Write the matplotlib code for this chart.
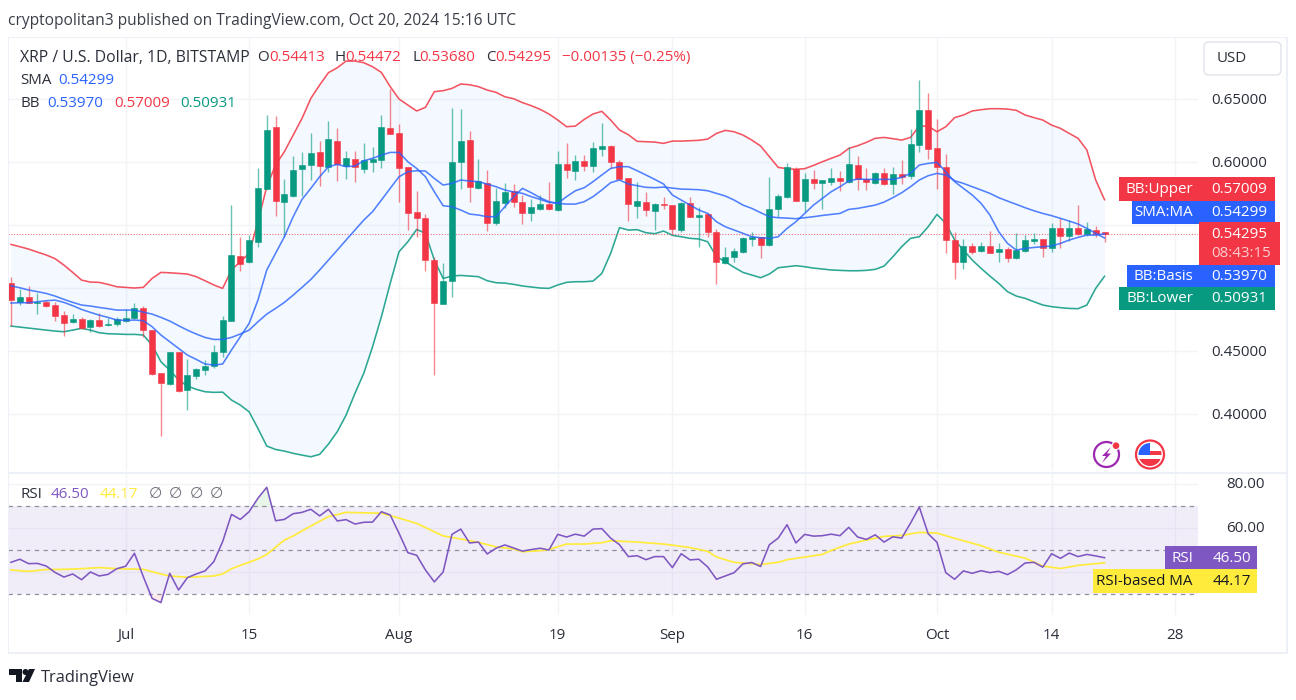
import matplotlib
matplotlib.use("Agg")
import matplotlib.pyplot as plt
from matplotlib.patches import Rectangle, FancyBboxPatch, Circle, Polygon, Arc

plt.rcParams["font.family"] = ["Open Sans", "DejaVu Sans"]

# daily candles, Jun 18 to Oct 20 2024
opens = [.5039, .4891, .4928, .4881, .4889, .4865, .4785, .4732, .4751, .4693, .4743, .4706, .4714, .4741, .4759, .4844, .4666, .4328, .4238, .4489, .4190, .4301, .4349, .4381, .4489,
         .4741, .5254, .5209, .5362, .5785, .6280, .5680, .5730, .5944, .5976, .6082, .5963, .6166, .5968, .6024, .5944, .6000, .6016, .6272, .6230, .5960, .5600, .5553, .5222, .4873,
         .5053, .5997, .6174, .5791, .5836, .5513, .5672, .5770, .5685, .5595, .5629, .5669, .5619, .5984, .5928, .6005, .5971, .6106, .6124, .5997, .5870, .5653, .5685, .5608, .5664,
         .5658, .5460, .5672, .5563, .5584, .5447, .5198, .5243, .5285, .5386, .5402, .5341, .5627, .5722, .5947, .5693, .5862, .5830, .5844, .5870, .5844, .5973, .5867, .5836, .5910,
         .5822, .5902, .5886, .6135, .6415, .6111, .5963, .5381, .5209, .5336, .5293, .5330, .5285, .5309, .5235, .5296, .5375, .5386, .5315, .5479, .5415, .5479, .5431, .5463, .54413]
highs = [.5090, .4989, .5018, .4957, .4904, .4891, .4820, .4793, .4772, .4751, .4799, .4764, .4767, .4830, .4878, .4857, .4666, .4328, .4492, .4489, .4434, .4362, .4428, .4547, .4777,
         .5658, .5402, .5420, .5949, .6373, .6365, .5862, .6047, .6076, .6233, .6169, .6325, .6267, .6090, .6090, .6148, .6116, .6373, .6576, .6301, .5960, .5772, .5587, .5248, .5201,
         .6426, .6420, .6246, .6021, .5936, .5796, .5836, .5825, .5738, .5706, .5738, .5838, .6087, .6148, .6055, .6055, .6161, .6307, .6135, .6016, .5870, .5838, .5762, .5672, .5719,
         .5658, .5680, .5719, .5640, .5592, .5465, .5328, .5315, .5407, .5447, .5407, .5878, .5746, .5989, .5963, .5910, .5936, .5857, .5949, .5931, .6121, .6047, .5949, .5923, .5949,
         .5963, .6016, .6259, .6651, .6545, .6338, .6061, .5447, .5386, .5354, .5367, .5452, .5354, .5328, .5434, .5420, .5434, .5386, .5518, .5553, .5539, .5658, .5521, .5494, .54472]
lows = [.4698, .4865, .4878, .4793, .4846, .4738, .4619, .4725, .4672, .4653, .4688, .4701, .4698, .4732, .4751, .4613, .4309, .3825, .4230, .4177, .4031, .4275, .4309, .4362, .4450,
        .4741, .5137, .5201, .5322, .5785, .5574, .5407, .5719, .5730, .5857, .5809, .5923, .5852, .5865, .5844, .5915, .5920, .5955, .6219, .5680, .5460, .5407, .5137, .4309, .4873,
        .4931, .5785, .5680, .5785, .5455, .5500, .5632, .5645, .5508, .5531, .5619, .5619, .5611, .5875, .5857, .5931, .5923, .6050, .5955, .5865, .5531, .5558, .5574, .5460, .5624,
        .5428, .5447, .5561, .5328, .5402, .5029, .5190, .5206, .5275, .5336, .5235, .5333, .5561, .5711, .5693, .5606, .5785, .5627, .5817, .5772, .5830, .5778, .5778, .5825, .5817,
        .5746, .5825, .5862, .6076, .6024, .5783, .5275, .5074, .5151, .5267, .5283, .5275, .5206, .5209, .5230, .5288, .5349, .5248, .5283, .5320, .5373, .5420, .5415, .5407, .5368]
closes = [.4904, .4928, .4883, .4889, .4859, .4780, .4725, .4751, .4682, .4743, .4698, .4717, .4751, .4764, .4841, .4664, .4315, .4243, .4492, .4185, .4309, .4354, .4383, .4489, .4746,
          .5262, .5190, .5381, .5791, .6254, .5688, .5743, .5934, .5976, .6074, .5971, .6182, .5984, .6031, .5957, .6016, .6021, .6280, .6225, .5949, .5595, .5553, .5222, .4881, .5055,
          .5997, .6166, .5804, .5849, .5518, .5688, .5762, .5680, .5595, .5643, .5666, .5624, .5984, .5936, .6005, .5971, .6108, .6124, .6000, .5865, .5666, .5690, .5616, .5666, .5658,
          .5465, .5677, .5561, .5579, .5442, .5209, .5243, .5291, .5394, .5402, .5344, .5627, .5730, .5960, .5693, .5862, .5836, .5854, .5870, .5846, .5981, .5862, .5844, .5910, .5822,
          .5902, .5883, .6145, .6415, .6106, .5963, .5378, .5209, .5336, .5288, .5330, .5280, .5307, .5235, .5301, .5381, .5386, .5315, .5479, .5412, .5479, .5431, .5465, .5426, .54295]

bb_upper = [.5346, .5328, .5309, .5285, .5262, .5233, .5182, .5124, .5063, .5047, .5045, .5029, .5010, .5005, .5000, .5005, .5076, .5124, .5121, .5116, .5111, .5090, .5058, .5024, .4997,
            .5143, .5209, .5275, .5526, .5804, .5976, .6082, .6214, .6346, .6505, .6611, .6709, .6748, .6801, .6801, .6788, .6756, .6711, .6598, .6500, .6452, .6405, .6434, .6558, .6566,
            .6584, .6619, .6613, .6598, .6571, .6553, .6518, .6502, .6471, .6447, .6418, .6381, .6333, .6280, .6285, .6338, .6381, .6402, .6333, .6254, .6217, .6164, .6161, .6158, .6148,
            .6166, .6166, .6169, .6172, .6182, .6227, .6251, .6240, .6214, .6174, .6127, .6042, .5957, .5947, .5942, .5947, .5973, .6002, .6029, .6055, .6108, .6129, .6156, .6188, .6195,
            .6185, .6174, .6195, .6285, .6285, .6240, .6280, .6352, .6373, .6405, .6415, .6423, .6423, .6420, .6410, .6373, .6352, .6333, .6293, .6267, .6227, .6188, .6095, .5857, .57009]
bb_lower = [.4698, .4690, .4682, .4674, .4666, .4658, .4653, .4666, .4680, .4666, .4645, .4637, .4635, .4632, .4632, .4627, .4547, .4415, .4349, .4270, .4222, .4196, .4177, .4172, .4174,
            .4111, .4071, .4018, .3886, .3746, .3719, .3706, .3688, .3674, .3661, .3680, .3762, .3860, .3992, .4164, .4323, .4534, .4772, .5037, .5288, .5367, .5465, .5434, .5222, .5076,
            .5095, .5100, .5095, .5090, .5058, .5042, .5039, .5029, .5016, .5008, .5000, .4997, .5024, .5045, .5050, .5050, .5055, .5116, .5275, .5479, .5460, .5463, .5439, .5431, .5452,
            .5418, .5407, .5394, .5389, .5367, .5248, .5209, .5164, .5124, .5103, .5082, .5111, .5161, .5169, .5177, .5169, .5158, .5151, .5143, .5140, .5137, .5137, .5140, .5148, .5174,
            .5248, .5328, .5394, .5407, .5486, .5584, .5513, .5381, .5301, .5222, .5156, .5095, .5037, .4971, .4936, .4918, .4891, .4865, .4852, .4844, .4838, .4836, .4865, .4997, .50931]
bb_basis = [.5018, .5002, .4984, .4971, .4957, .4936, .4910, .4886, .4865, .4857, .4846, .4836, .4825, .4825, .4825, .4809, .4793, .4767, .4738, .4701, .4666, .4635, .4608, .4592, .4592,
            .4608, .4635, .4666, .4732, .4793, .4838, .4886, .4944, .5005, .5068, .5143, .5222, .5301, .5381, .5460, .5539, .5606, .5698, .5791, .5883, .5923, .5931, .5928, .5870, .5817,
            .5830, .5857, .5849, .5844, .5825, .5804, .5778, .5762, .5751, .5725, .5703, .5680, .5672, .5666, .5666, .5685, .5725, .5778, .5836, .5857, .5825, .5812, .5799, .5796, .5801,
            .5793, .5785, .5783, .5780, .5772, .5751, .5730, .5698, .5658, .5632, .5598, .5566, .5558, .5555, .5550, .5558, .5566, .5576, .5584, .5592, .5624, .5632, .5645, .5658, .5682,
            .5717, .5756, .5804, .5857, .5891, .5910, .5897, .5852, .5830, .5804, .5778, .5751, .5717, .5690, .5664, .5637, .5613, .5592, .5574, .5553, .5531, .5508, .5473, .5434, .5397]
sma = [.4881, .4883, .4883, .4891, .4899, .4904, .4886, .4860, .4830, .4807, .4785, .4767, .4746, .4743, .4746, .4741, .4693, .4627, .4574, .4521, .4468, .4434, .4397, .4389, .4397,
       .4508, .4613, .4719, .4904, .5143, .5275, .5407, .5566, .5703, .5791, .5883, .5963, .5981, .5963, .5968, .6010, .6029, .6055, .6076, .6076, .6002, .5949, .5883, .5764, .5653,
       .5645, .5619, .5587, .5579, .5566, .5566, .5645, .5725, .5791, .5756, .5717, .5685, .5672, .5725, .5772, .5796, .5844, .5897, .5949, .5963, .5963, .5931, .5897, .5862, .5825,
       .5738, .5698, .5658, .5619, .5592, .5526, .5486, .5460, .5434, .5407, .5399, .5394, .5407, .5473, .5526, .5592, .5658, .5711, .5764, .5804, .5849, .5865, .5862, .5862, .5862,
       .5862, .5878, .5910, .5976, .5989, .5997, .5923, .5844, .5791, .5738, .5672, .5579, .5447, .5354, .5301, .5315, .5322, .5328, .5333, .5354, .5381, .5402, .5420, .5420, .54299]

rsi = [44.4, 45.8, 43.8, 43.9, 42.7, 39.8, 37.7, 39.1, 36.5, 40.0, 38.2, 38.9, 41.5, 42.6, 48.5, 37.9, 28.0, 26.1, 39.4, 31.8, 37.4, 39.1, 40.5, 44.7, 53.8,
       66.2, 63.9, 67.4, 73.5, 78.5, 63.3, 63.9, 66.5, 67.1, 68.5, 65.5, 68.5, 63.2, 63.8, 61.8, 62.6, 62.7, 67.4, 65.9, 57.6, 48.8, 47.6, 40.9, 35.5, 40.0,
       57.1, 59.5, 53.2, 53.6, 48.2, 50.8, 52.3, 50.9, 49.5, 50.2, 50.8, 50.0, 57.1, 55.9, 57.2, 56.3, 59.5, 59.7, 55.4, 52.4, 47.0, 47.4, 45.6, 47.0, 47.0,
       42.0, 48.3, 45.5, 45.8, 42.3, 36.7, 38.2, 39.7, 43.7, 44.3, 42.5, 52.4, 55.4, 61.5, 53.2, 57.1, 56.3, 56.5, 57.2, 56.5, 60.3, 55.9, 54.8, 56.9, 53.6,
       56.0, 55.4, 62.2, 69.5, 57.4, 53.5, 39.7, 36.7, 40.5, 39.4, 40.6, 39.7, 40.3, 38.8, 41.0, 44.1, 44.4, 42.2, 48.3, 46.2, 48.6, 47.0, 48.0, 47.3, 46.50]

rsi_ma_days = [0, 2, 4, 6, 8, 10, 12, 15, 17, 18, 20, 23, 24, 25, 28, 29, 31, 32, 34, 36, 38, 42, 44, 46, 48, 49, 51, 53, 55, 57, 58, 60, 61, 63, 65, 67, 68, 71, 74, 77,
               79, 80, 82, 84, 85, 87, 88, 92, 93, 95, 97, 99, 101, 103, 105, 107, 110, 112, 115, 117, 119, 121, 124]
rsi_ma = [40.9, 40.3, 41.1, 41.2, 41.5, 42.0, 41.5, 41.2, 39.1, 38.2, 37.6, 38.2, 39.1, 41.5, 45.9, 48.0, 54.5, 56.4, 60.9, 65.2, 67.1, 66.7, 64.5, 62.1, 58.3, 56.4, 55.0, 53.5, 51.4, 50.5, 49.2, 49.7, 50.2, 52.7, 52.7, 53.3, 54.2, 53.6, 52.7, 51.1,
          49.4, 46.8, 44.4, 43.8, 43.4, 44.4, 45.6, 48.0, 49.8, 52.7, 54.5, 56.2, 56.6, 58.0, 57.7, 55.3, 52.0, 49.0, 46.3, 42.7, 41.6, 43.0, 44.17]

price_ticks = [0.40, 0.45, 0.50, 0.55, 0.60, 0.65]
rsi_ticks = [20, 40, 60, 80]
rsi_levels = [30, 50, 70]
time_tick_days = [13, 27, 44, 62, 75, 90, 105, 118, 132]
time_tick_labels = ["Jul", "15", "Aug", "19", "Sep", "16", "Oct", "14", "28"]

up_col = "#089981"
down_col = "#F23645"
blue = "#2962FF"
purple = "#7E57C2"
yellow = "#FFEB3B"
grid_col = "#F3F4F8"
frame_col = "#EEF0F7"
text_col = "#2A2E39"

W, H = 1296, 700
fig = plt.figure(figsize=(W / 100, H / 100), dpi=100, facecolor="white")


def pixel_axes(left, top, right, bottom):
    return fig.add_axes([left / W, 1 - bottom / H, (right - left) / W, (bottom - top) / H])


days = list(range(len(closes)))
xlim = (-0.34, 134.6)

# main price pane
ax = pixel_axes(8, 38, 1198, 471)
ax.set_xlim(xlim)
ax.set_ylim(0.3548, 0.6984)
for d in time_tick_days:
    ax.axvline(d, color=grid_col, lw=1, zorder=0)
for p in price_ticks:
    ax.axhline(p, color=grid_col, lw=1, zorder=0)

ax.fill_between(days, bb_lower, bb_upper, color="#2196F3", alpha=0.05, lw=0, zorder=1)
ax.plot(days, bb_upper, color=down_col, lw=1.15, alpha=0.85, zorder=2)
ax.plot(days, bb_lower, color=up_col, lw=1.15, alpha=0.85, zorder=2)
ax.axhline(closes[-1], color=down_col, lw=0.8, ls=(0, (1, 1.5)), alpha=0.7, zorder=2)

colors = [up_col if c >= o else down_col for o, c in zip(opens, closes)]
ax.vlines(days, lows, highs, colors=colors, lw=1.0, alpha=0.6, zorder=3)
bottoms = [min(o, c) for o, c in zip(opens, closes)]
heights = [abs(c - o) for o, c in zip(opens, closes)]
ax.bar(days, heights, bottom=bottoms, width=0.68, color=colors, edgecolor=colors, lw=0.4, zorder=4)

ax.plot(days, bb_basis, color=blue, lw=1.15, alpha=0.8, zorder=5)
ax.plot(days, sma, color=blue, lw=1.15, alpha=0.8, zorder=5)
ax.axis("off")

# RSI pane
ax2 = pixel_axes(8, 473, 1198, 615)
ax2.set_xlim(xlim)
ax2.set_ylim(20.45, 85)
for d in time_tick_days:
    ax2.axvline(d, color=grid_col, lw=1, zorder=0)
for r in rsi_ticks:
    ax2.axhline(r, color=grid_col, lw=1, zorder=0)
ax2.axhspan(rsi_levels[0], rsi_levels[-1], color=purple, alpha=0.1, lw=0, zorder=1)
for r in rsi_levels:
    ax2.axhline(r, color="#8E919B", lw=0.9, ls=(0, (3.5, 3.5)), zorder=2)
ax2.fill_between(days, 70, rsi, where=[v > 70 for v in rsi], interpolate=True, color="#4CAF50", alpha=0.12, lw=0, zorder=2)
ax2.fill_between(days, 30, rsi, where=[v < 30 for v in rsi], interpolate=True, color="#F44336", alpha=0.10, lw=0, zorder=2)
ax2.plot(rsi_ma_days, rsi_ma, color=yellow, lw=1.25, zorder=3)
ax2.plot(days, rsi, color=purple, lw=1.15, zorder=4)
ax2.axis("off")

# everything around the panes, in pixels
ov = fig.add_axes([0, 0, 1, 1], facecolor="none", zorder=10)
ov.set_xlim(0, W)
ov.set_ylim(H, 0)
ov.axis("off")


def txt(x, y, s, color=text_col, size=10.9, ha="left", **kw):
    ov.text(x, y + 1.5, s, color=color, fontsize=size, ha=ha, va="center", **kw)


def box(x0, y0, x1, y1, color):
    ov.add_patch(Rectangle((x0, y0), x1 - x0, y1 - y0, color=color, lw=0))


# frame
for x0, y0, x1, y1 in [(8, 36.5, 1287, 38), (8, 652, 1287, 653.5), (7.5, 36.5, 9, 653.5), (1286, 36.5, 1287.5, 653.5), (8, 471.5, 1287, 473.5)]:
    box(x0, y0, x1, y1, frame_col)

txt(8, 19.5, "cryptopolitan3 published on TradingView.com, Oct 20, 2024 15:16 UTC", color="#3A3E48", size=11.2)

# legend rows
txt(20, 56, "XRP / U.S. Dollar, 1D, BITSTAMP", size=11.3)
for lx, lab, vx, val in [(257, "O", 269, opens[-1]), (335, "H", 345, highs[-1]), (412, "L", 419, lows[-1]), (486, "C", 495, closes[-1])]:
    txt(lx, 56, lab)
    txt(vx, 56, f"{val:.5f}", color=down_col)
txt(562, 56, "\u22120.00135 (\u22120.25%)", color=down_col)
txt(20, 79, "SMA")
txt(58, 79, f"{sma[-1]:.5f}", color=blue)
txt(20, 102, "BB")
txt(47, 102, f"{bb_basis[-1]:.5f}", color=blue)
txt(114, 102, f"{bb_upper[-1]:.5f}", color=down_col)
txt(180, 102, f"{bb_lower[-1]:.5f}", color=up_col)

txt(20, 493, "RSI")
txt(51, 493, f"{rsi[-1]:.2f}", color=purple)
txt(100, 493, f"{rsi_ma[-1]:.2f}", color=yellow)
for x in [155, 175, 196, 216]:
    txt(x, 493, "\u2205", color="#6A6D78", ha="center", size=11)

# USD button
ov.add_patch(FancyBboxPatch((1204, 42), 77, 33, boxstyle="round,pad=0,rounding_size=5", fc="white", ec="#E0E3EB", lw=1))
txt(1217, 57, "USD")

# axis labels
for p in price_ticks:
    if p != 0.55 and p != 0.50:
        txt(1211, H - ax.transData.transform((0, p))[1], f"{p:.5f}")
txt(1226, 483, "80.00")
txt(1226, 527, "60.00")
for d, lab in zip(time_tick_days, time_tick_labels):
    txt(ax.transData.transform((d, 0))[0], 634, lab, ha="center")

# value tags on the price scale
tags = [("BB:Upper", bb_upper[-1], down_col, 1119, 177, 200.5),
        ("SMA:MA", sma[-1], blue, 1132, 200.5, 223.5),
        ("BB:Basis", bb_basis[-1], blue, 1127, 264.5, 287),
        ("BB:Lower", bb_lower[-1], up_col, 1119, 287, 310)]
for name, val, col, x0, y0, y1 in tags:
    box(x0, y0, 1198.6, y1, col)
    box(1199.4, y0, 1274.5, y1, col)
    txt(1193, (y0 + y1) / 2 - 1, name, color="white", ha="right")
    txt(1211, (y0 + y1) / 2 - 1, f"{val:.5f}", color="white")
box(1199.4, 222, 1280, 265, down_col)
txt(1211, 233, f"{closes[-1]:.5f}", color="white")
txt(1211, 252, "08:43:15", color="#FBCDD1", size=10.9)

box(1165, 546, 1198.6, 569, purple)
box(1199.4, 546, 1257, 569, purple)
txt(1193, 556.5, "RSI", color="white", ha="right")
txt(1251, 556.5, f"{rsi[-1]:.2f}", color="white", ha="right")
box(1093, 569, 1198.6, 592.5, yellow)
box(1199.4, 569, 1257, 592.5, yellow)
txt(1193, 580, "RSI-based MA", color="#131722", ha="right")
txt(1251, 580, f"{rsi_ma[-1]:.2f}", color="#131722", ha="right")

# small event icons
ov.add_patch(Arc((1106.5, 454.5), 25, 25, theta1=0, theta2=360, color="#9C27B0", lw=1.6))
ov.add_patch(Polygon([(1111, 447), (1102, 456), (1106, 456), (1102, 463), (1111, 453.5), (1107, 453.5)], color="#9C27B0", lw=0))
ov.add_patch(Circle((1116, 445.7), 4.5, color="white", lw=0))
ov.add_patch(Circle((1116, 445.7), 3.3, color=down_col, lw=0))

flag_clip = Circle((1150, 454.5), 11.5, color="white", lw=0)
ov.add_patch(flag_clip)
for x0, y0, w, h, col in [(1138, 459, 24, 8, down_col), (1150, 451, 12, 4, down_col), (1138, 443, 12, 12, "#2962FF")]:
    r = Rectangle((x0, y0), w, h, color=col, lw=0)
    ov.add_patch(r)
    r.set_clip_path(flag_clip)
ov.add_patch(Circle((1150, 454.5), 14, fc="none", ec=down_col, lw=1.6))

# TradingView logo
ov.add_patch(Polygon([(9, 669), (22, 669), (22, 682), (15.5, 682), (15.5, 675), (9, 675)], color="#131722", lw=0))
ov.add_patch(Circle((25.5, 672), 3, color="#131722", lw=0))
ov.add_patch(Polygon([(29, 669), (35, 669), (29, 682), (22.5, 682)], color="#131722", lw=0))
txt(41, 676, "TradingView", color="#2A2E39", size=11.8)

fig.savefig("out.png", dpi=100, facecolor="white")
